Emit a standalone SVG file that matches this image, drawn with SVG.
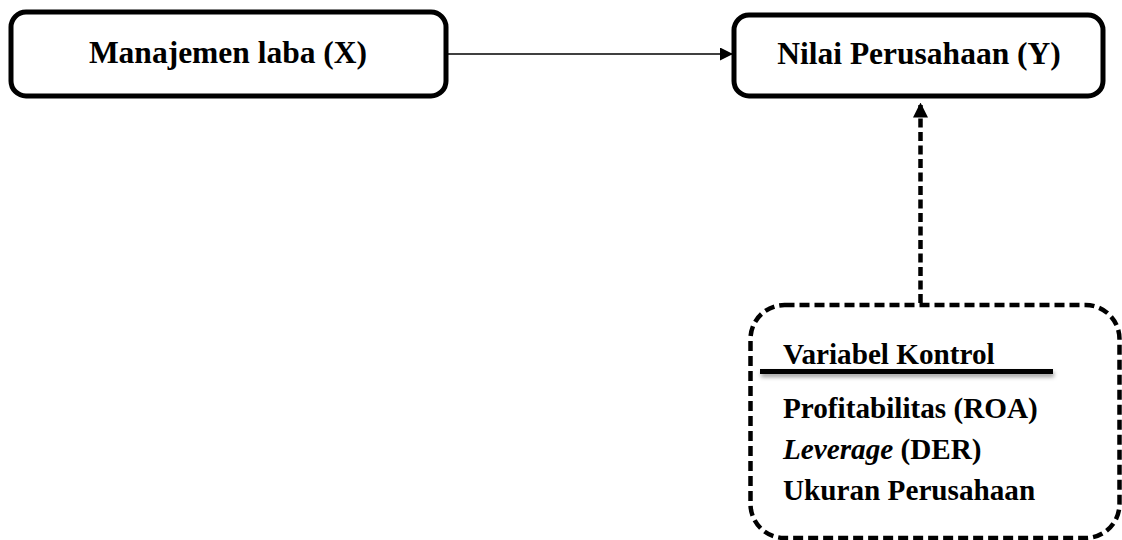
<svg xmlns="http://www.w3.org/2000/svg" width="1122" height="540" viewBox="0 0 1122 540">
  <defs>
    <marker id="arrowSolid" viewBox="0 0 13 13" refX="13" refY="6.5" markerWidth="13" markerHeight="13" markerUnits="userSpaceOnUse" orient="auto">
      <path d="M0,0 L13,6.5 L0,13 Z" fill="#000"/>
    </marker>
    <marker id="arrowDash" viewBox="0 0 15 15" refX="15" refY="7.5" markerWidth="15" markerHeight="15" markerUnits="userSpaceOnUse" orient="auto">
      <path d="M0,0 L15,7.5 L0,15 Z" fill="#000"/>
    </marker>
    <filter id="shadow" filterUnits="userSpaceOnUse" x="750" y="360" width="320" height="30">
      <feDropShadow dx="1" dy="3" stdDeviation="2" flood-color="#000" flood-opacity="0.4"/>
    </filter>
  </defs>
  <style>
    .box { fill: #fff; stroke: #000; stroke-width: 5; }
    .dbox { fill: #fff; stroke: #000; stroke-width: 4.5; stroke-dasharray: 10 5; }
    .t1 { font-family: "Liberation Serif", "Times New Roman", serif; font-weight: bold; font-size: 31.5px; fill: #000; }
    .t2 { font-family: "Liberation Serif", "Times New Roman", serif; font-weight: bold; font-size: 29.2px; fill: #000; }
    .it { font-style: italic; }
  </style>
  <rect width="1122" height="540" fill="#fff"/>
  <g id="connectors">
    <line x1="448" y1="54" x2="733" y2="54" stroke="#000" stroke-width="1.6" marker-end="url(#arrowSolid)"/>
    <line x1="920.5" y1="303" x2="920.5" y2="102.5" stroke="#000" stroke-width="4.5" stroke-dasharray="9 4.5" marker-end="url(#arrowDash)"/>
  </g>
  <g id="node-x">
    <rect class="box" x="11" y="12" width="435" height="84" rx="15" ry="15"/>
    <text class="t1" x="228" y="63" text-anchor="middle">Manajemen laba (X)</text>
  </g>
  <g id="node-y">
    <rect class="box" x="734" y="15" width="369" height="81" rx="15" ry="15"/>
    <text class="t1" x="919" y="64" text-anchor="middle">Nilai Perusahaan (Y)</text>
  </g>
  <g id="node-kontrol">
    <rect class="dbox" x="750.5" y="305" width="369" height="233" rx="34" ry="34"/>
    <text class="t2" x="783" y="364">Variabel Kontrol</text>
    <rect x="760" y="369" width="293" height="5" fill="#000" filter="url(#shadow)"/>
    <text class="t2" x="783" y="418">Profitabilitas (ROA)</text>
    <text class="t2" x="783" y="459"><tspan class="it">Leverage</tspan> (DER)</text>
    <text class="t2" x="783" y="500">Ukuran Perusahaan</text>
  </g>
</svg>
